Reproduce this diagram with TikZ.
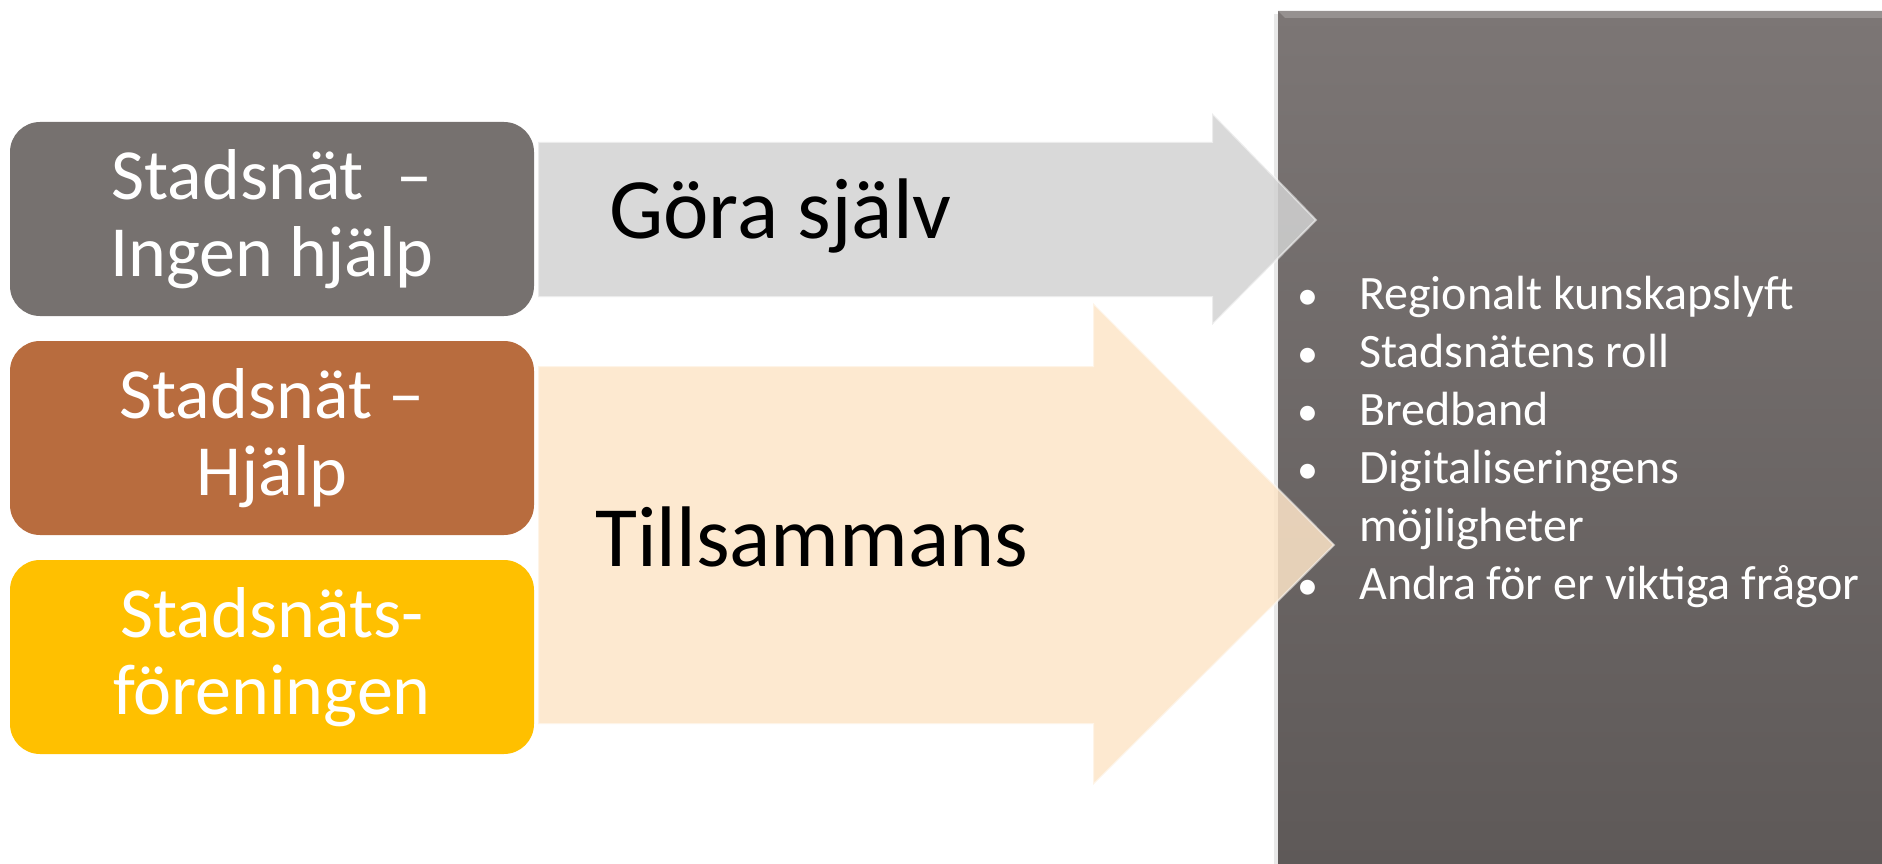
\documentclass[tikz,border=0pt]{standalone}
\usepackage{fontspec}
\setmainfont{Carlito}
\usepackage{array}

\definecolor{grafarg}{RGB}{118,113,111}
\definecolor{brunfarg}{RGB}{184,108,62}
\definecolor{gulfarg}{RGB}{255,192,0}
\definecolor{pilgrafarg}{RGB}{210,210,210}
\definecolor{persikafarg}{RGB}{253,229,200}
\definecolor{paneltopp}{RGB}{124,118,117}
\definecolor{panelbotten}{RGB}{94,89,88}
\definecolor{fasfarg}{RGB}{150,145,144}

\newcommand{\punkt}{{\fontsize{42}{58}\selectfont •}}

\begin{document}
\begin{tikzpicture}[x=1pt,y=-1pt]
% Stilar
\tikzset{
  rad/.style={rectangle, rounded corners=30pt, minimum width=524pt, minimum height=194pt, inner sep=0pt, text=white, align=center, font=\fontsize{72}{77}\selectfont},
  pilform/.style={fill opacity=0.85, draw=white, draw opacity=0.5, line width=2pt},
  pilord/.style={anchor=base west, inner sep=0pt, text=black, font=\fontsize{86}{100}\selectfont},
  panelstil/.style={rectangle, inner sep=0pt, minimum width=604pt, minimum height=853pt, anchor=north west, top color=paneltopp, bottom color=panelbotten},
  listord/.style={anchor=base west, inner sep=0pt, text=white, font=\fontsize{48}{58}\selectfont}
}
\useasboundingbox (0,0) rectangle (1882,864);

% Panel till hoger
\fill[gray!18] (1274,14) rectangle (1278,864);
\node[panelstil] (lista_panel) at (1278,11) {};
\fill[fasfarg] (1278,11) -- (1882,11) -- (1882,18) -- (1285,18) -- cycle;

% Rutor till vanster
\node[rad, fill=grafarg] (ingen_box) at (272,219) {Stadsnät\ \ –\\Ingen hjälp};
\node[rad, fill=brunfarg] (hjalp_box) at (272,438) {Stadsnät –\\Hjälp};
\node[rad, fill=gulfarg] (forening_box) at (272,657) {Stadsnäts-\\föreningen};

% Pilar
\path[pilform, fill=pilgrafarg] (538,142) -- (1212,142) -- (1212,113) -- (1316,220)
  -- (1212,325) -- (1212,297) -- (538,297) -- cycle;
\path[pilform, fill=persikafarg] (538,366) -- (1093,366) -- (1093,303) -- (1334,545)
  -- (1093,785) -- (1093,724) -- (538,724) -- cycle;
\node[pilord] (gora_text) at (609,238) {Göra själv};
\node[pilord] (tillsammans_text) at (595,566) {Tillsammans};

% Lista
\node[listord] (lista) at (1297,309) {\begin{tabular}[t]{@{}p{62pt}@{}l@{}}
\punkt&Regionalt kunskapslyft\\
\punkt&Stadsnätens roll\\
\punkt&Bredband\\
\punkt&Digitaliseringens\\
&möjligheter\\
\punkt&Andra för er viktiga frågor
\end{tabular}};

\end{tikzpicture}
\end{document}
